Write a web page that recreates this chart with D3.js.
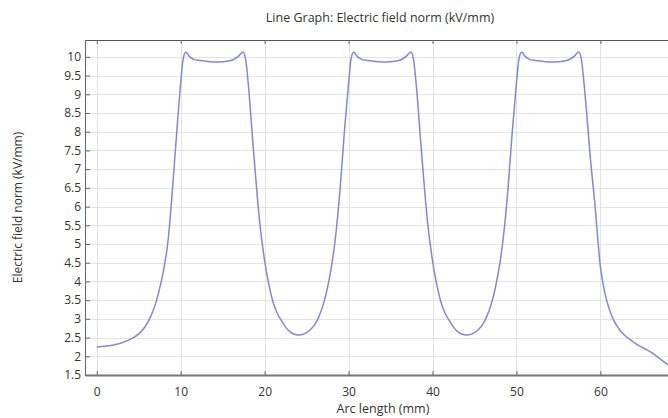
<!DOCTYPE html>
<html>
<head>
<meta charset="utf-8">
<script src="https://cdn.jsdelivr.net/npm/d3@7"></script>
<style>
  body { margin: 0; background: #fff; }
  svg text { font-family: 'Open Sans', 'Noto Sans', sans-serif; fill: #333; }
</style>
</head>
<body>
<div id="chart"></div>
<script>
// Values
const arcLength = [
  0, 1, 2, 3, 4, 5, 5.75, 6.5, 7, 7.5, 8, 8.5, 9, 9.5, 10, 10.3, 10.6, 11, 11.5, 12.3, 13.5, 14.5, 15.5, 16.3, 16.9, 17.4,
  17.7, 18, 18.3, 18.6, 19, 19.4, 20, 20.5, 21, 21.5, 22, 22.5, 23, 23.5, 24, 24.5, 25, 25.5, 26, 26.5, 27, 27.5, 28, 28.5, 29, 29.5,
  30, 30.3, 30.6, 31, 31.5, 32.3, 33.5, 34.5, 35.5, 36.3, 36.9, 37.4,
  37.7, 38, 38.3, 38.6, 39, 39.4, 40, 40.5, 41, 41.5, 42, 42.5, 43, 43.5, 44, 44.5, 45, 45.5, 46, 46.5, 47, 47.5, 48, 48.5, 49, 49.5,
  50, 50.3, 50.6, 51, 51.5, 52.3, 53.5, 54.5, 55.5, 56.3, 56.9, 57.4,
  57.7, 58, 58.4, 58.8, 59.3, 60, 60.5, 61, 61.5, 62, 62.7, 63.5, 64.2, 64.7, 65.5, 66.3, 67, 68, 69
]
const fieldNorm = [
  2.25, 2.27, 2.3, 2.36, 2.45, 2.6, 2.79, 3.1, 3.4, 3.82, 4.35, 5.1, 6.4, 7.9, 9.3, 9.95, 10.12, 10.02, 9.94, 9.9, 9.87, 9.86, 9.88, 9.93, 10.02, 10.13,
  9.98, 9.4, 8.6, 7.7, 6.6, 5.6, 4.55, 3.92, 3.45, 3.15, 2.95, 2.78, 2.66, 2.59, 2.57, 2.58, 2.63, 2.72, 2.86, 3.08, 3.4, 3.85, 4.45, 5.3, 6.5, 8.0,
  9.3, 9.95, 10.12, 10.02, 9.94, 9.9, 9.87, 9.86, 9.88, 9.93, 10.02, 10.13,
  9.98, 9.4, 8.6, 7.7, 6.6, 5.6, 4.55, 3.92, 3.45, 3.15, 2.95, 2.78, 2.66, 2.59, 2.57, 2.58, 2.63, 2.72, 2.86, 3.08, 3.4, 3.85, 4.45, 5.3, 6.5, 8.0,
  9.3, 9.95, 10.12, 10.02, 9.94, 9.9, 9.87, 9.86, 9.88, 9.93, 10.02, 10.13,
  9.98, 9.4, 8.4, 7.3, 6.17, 4.39, 3.72, 3.3, 3.0, 2.8, 2.6, 2.45, 2.34, 2.27, 2.18, 2.07, 1.95, 1.78, 1.6
]
const xTicks = [0, 10, 20, 30, 40, 50, 60]
const yTicks = [1.5, 2, 2.5, 3, 3.5, 4, 4.5, 5, 5.5, 6, 6.5, 7, 7.5, 8, 8.5, 9, 9.5, 10]
const yTickLabels = ['1.5', '2', '2.5', '3', '3.5', '4', '4.5', '5', '5.5', '6', '6.5', '7', '7.5', '8', '8.5', '9', '9.5', '10']

const width = 668
const height = 418
const plot = { left: 85, top: 40, right: 681, bottom: 375 }

const svg = d3.select('#chart').append('svg')
  .attr('width', width)
  .attr('height', height)

const x = d3.scaleLinear().domain([-1.4, 69.6]).range([plot.left, plot.right])
const y = d3.scaleLinear().domain([1.5, 10.45]).range([plot.bottom, plot.top])

svg.append('defs').append('clipPath')
  .attr('id', 'clip')
  .append('rect')
  .attr('x', plot.left)
  .attr('y', plot.top)
  .attr('width', plot.right - plot.left)
  .attr('height', plot.bottom - plot.top)

// grid
const grid = svg.append('g').attr('stroke', '#e3e3e3').attr('stroke-width', 1)
grid.selectAll('.hg')
  .data(yTicks.slice(1))
  .enter().append('line')
  .attr('x1', plot.left).attr('x2', plot.right)
  .attr('y1', (d) => Math.round(y(d)) + 0.5)
  .attr('y2', (d) => Math.round(y(d)) + 0.5)
grid.selectAll('.vg')
  .data(xTicks)
  .enter().append('line')
  .attr('y1', plot.top).attr('y2', plot.bottom)
  .attr('x1', (d) => Math.round(x(d)) + 0.5)
  .attr('x2', (d) => Math.round(x(d)) + 0.5)

// the curve
const line = d3.line()
  .x((d, i) => x(arcLength[i]))
  .y((d) => y(d))
  .curve(d3.curveMonotoneX)

svg.append('path')
  .datum(fieldNorm)
  .attr('clip-path', 'url(#clip)')
  .attr('fill', 'none')
  .attr('stroke', '#8088d8')
  .attr('stroke-width', 1.5)
  .attr('d', line)

// axes
const yAxis = svg.append('g')
  .attr('transform', 'translate(' + plot.left + ',0)')
  .call(d3.axisLeft(y).tickValues(yTicks).tickFormat((d, i) => yTickLabels[i])
    .tickSizeInner(-5).tickSizeOuter(0).tickPadding(4))
yAxis.select('.domain').attr('stroke', '#666')
yAxis.selectAll('.tick line').attr('stroke', '#666')
yAxis.selectAll('text').style('font-size', '12px').attr('fill', '#333')

const xAxis = svg.append('g')
  .attr('transform', 'translate(0,' + plot.bottom + ')')
  .call(d3.axisBottom(x).tickValues(xTicks).tickSizeInner(-4).tickSizeOuter(0).tickPadding(12))
xAxis.select('.domain').attr('stroke', '#777').attr('stroke-width', 2)
xAxis.selectAll('.tick line').attr('stroke', '#666')
xAxis.selectAll('text').style('font-size', '12px').attr('fill', '#333')

const topAxis = svg.append('g')
  .attr('transform', 'translate(0,' + plot.top + ')')
  .call(d3.axisTop(x).tickValues(xTicks).tickFormat('').tickSizeInner(-4).tickSizeOuter(0))
topAxis.select('.domain').attr('stroke', '#555')
topAxis.selectAll('.tick line').attr('stroke', '#666')

// labels
const midX = (plot.left + plot.right) / 2
svg.append('text')
  .attr('x', midX - 3)
  .attr('y', 22)
  .attr('text-anchor', 'middle')
  .style('font-size', '12.5px')
  .text('Line Graph: Electric field norm (kV/mm)')

svg.append('text')
  .attr('x', midX)
  .attr('y', 413)
  .attr('text-anchor', 'middle')
  .style('font-size', '12.5px')
  .text('Arc length (mm)')

svg.append('text')
  .attr('transform', 'translate(22,' + ((plot.top + plot.bottom) / 2) + ') rotate(-90)')
  .attr('text-anchor', 'middle')
  .style('font-size', '12px')
  .text('Electric field norm (kV/mm)')
</script>
</body>
</html>
